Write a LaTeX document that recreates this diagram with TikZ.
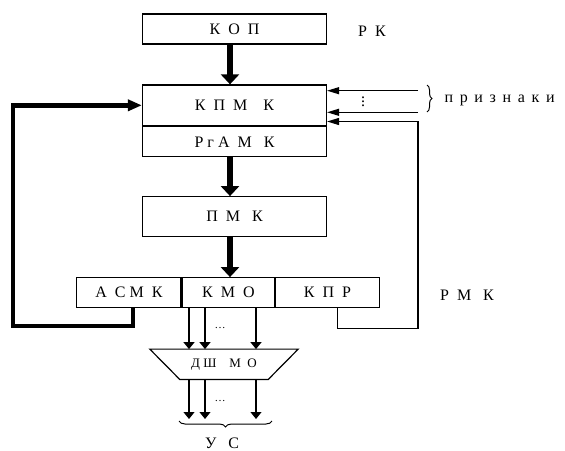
\documentclass[tikz,border=0pt]{standalone}
\usepackage{fontspec}
\setmainfont{Liberation Serif}
\usepackage{tikz}
\usetikzlibrary{arrows.meta,positioning,calc,decorations.pathreplacing}

\begin{document}
\begin{tikzpicture}[x=1pt,y=-1pt,
  font=\fontsize{16}{18}\selectfont,
  blk/.style={draw, line width=1.2pt, minimum width=184pt, inner sep=0pt},
  cell/.style={draw, line width=1.2pt, minimum height=30pt, inner sep=0pt},
  bigarr/.style={line width=6pt, -{Triangle[length=10pt,width=18pt]}},
  fbarr/.style={line width=4.5pt, -{Triangle[length=14pt,width=11pt]}},
  inarr/.style={line width=1.2pt, -{Triangle[length=12pt,width=7pt]}},
  busarr/.style={line width=1.2pt, -{Triangle[length=7pt,width=11pt]}},
  dotsf/.style={font=\fontsize{11}{12}\selectfont}]
  \useasboundingbox (0,0) rectangle (565,450);

  % register
  \node[blk, minimum height=30pt] (kop) at (234.5,29) {К~~О~~П};
  \node (rk) at (372,31) {Р~~К};

  \node[blk, minimum height=40.7pt] (kpmk) at (234.5,105.3) {К~~П~~М~~~~К};
  \node[blk, minimum height=30pt, below=0pt of kpmk] (rgamk) {Р~г~А~~М~~~К};
  \node[blk, minimum height=40pt] (pmk) at (234.5,216.7) {П~~М~~~К};

  \node[cell, minimum width=104.3pt] (asmk) at (128.9,292.7) {А~~С~М~~К};
  \node[cell, minimum width=92.3pt, right=0pt of asmk] (kmo) {К~~М~~О};
  \node[cell, minimum width=103.4pt, right=0pt of kmo] (kpr) {К~~П~~Р};
  \node (rmk) at (467,295) {Р~~М~~~К};

  \coordinate (bus) at (230,0);
  \draw[bigarr] (kop.south -| bus) -- (kpmk.north -| bus);
  \draw[bigarr] (rgamk.south -| bus) -- (pmk.north -| bus);
  \draw[bigarr] (pmk.south -| bus) -- (kmo.north -| bus);

  % loops
  \coordinate (fb) at (13,326);
  \draw[fbarr] ([xshift=4pt]asmk.south) |- (fb) |- (kpmk.west);
  \coordinate (rl) at (418,328.3);
  \draw[inarr] ([xshift=10pt]kpr.south) |- (rl) |- ([yshift=-16.2pt]kpmk.east);

  % flags
  \coordinate (pr1) at (418,90.7);
  \coordinate (pr2) at (418,112.3);
  \draw[inarr] (pr1) -- (pr1 -| kpmk.east);
  \draw[inarr] (pr2) -- (pr2 -| kpmk.east);
  \node (vd) at (363,99) {$\vdots$};
  \draw[decorate, decoration={brace, amplitude=5pt}, line width=1pt] (427,85) -- (427,112);
  \node[anchor=west] (prz) at (441,100) {п~\,р~\,и~\,з~\,н~\,а~\,к~\,и};

  % decoder
  \node[minimum width=88pt, minimum height=30pt, inner sep=0pt] (dsh) at (224,364.3)
    {\fontsize{13}{14}\selectfont Д~Ш~~~~М~~О};
  \draw[line width=1.2pt] (dsh.south west) -- (dsh.south east)
    -- ([xshift=30pt]dsh.north east) -- ([xshift=-30pt]dsh.north west) -- cycle;
  \coordinate (ustop) at (0,419);
  \foreach \x [count=\i] in {189,205,256} {
    \coordinate (c\i) at (\x,0);
    \draw[busarr] (kmo.south -| c\i) -- (dsh.north -| c\i);
    \draw[busarr] (dsh.south -| c\i) -- (ustop -| c\i);
  }
  \node[dotsf] (d1) at (220,328) {\ldots};
  \node[dotsf] (d2) at (220,401) {\ldots};
  \draw[decorate, decoration={brace, amplitude=6pt}, line width=1pt] (272,421) -- (179,421);
  \node (us) at (222,443) {У~~~С};
\end{tikzpicture}
\end{document}
